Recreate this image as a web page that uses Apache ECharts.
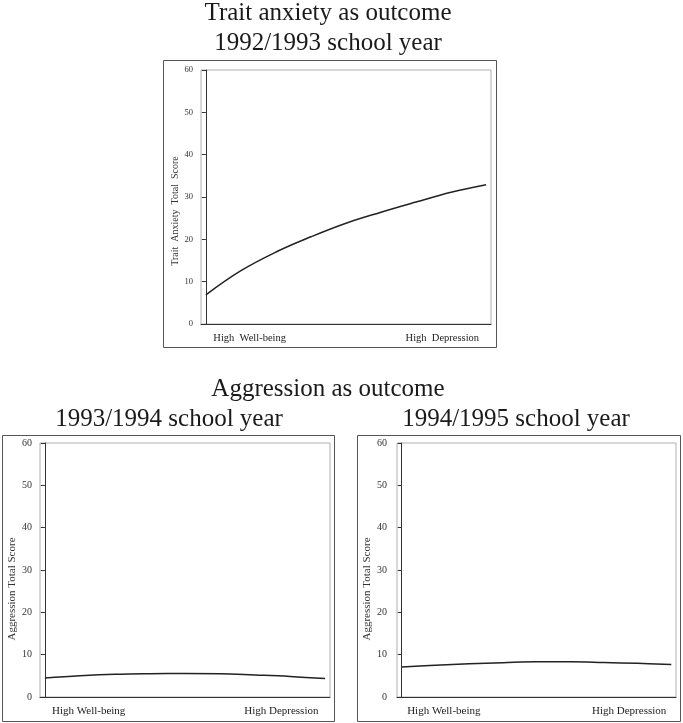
<!DOCTYPE html>
<html>
<head>
<meta charset="utf-8">
<script src="https://cdn.jsdelivr.net/npm/echarts@6/dist/echarts.min.js"></script>
<style>html,body{margin:0;padding:0;background:#fff;}#c{width:683px;height:723px;}</style>
</head>
<body>
<div id="c"></div>
<script>
// ---- data ----
var predictorSteps = [0, 1, 2, 3, 4, 5, 6, 7, 8];
var traitAnxiety9293 = [6.9, 12.6, 17.0, 20.6, 23.8, 26.4, 28.8, 31.1, 32.9];
var aggression9394 = [4.5, 5.0, 5.35, 5.5, 5.55, 5.5, 5.2, 4.85, 4.35];
var aggression9495 = [7.1, 7.5, 7.85, 8.1, 8.3, 8.3, 8.15, 7.95, 7.7];
var endLabelPositions = [1.25, 6.75];
var endLabelsTop = ['High  Well-being', 'High  Depression'];
var endLabelsBottom = ['High Well-being', 'High Depression'];
var yTicks = [0, 10, 20, 30, 40, 50, 60];
var titles = {
  top1: 'Trait anxiety as outcome',
  top2: '1992/1993 school year',
  bottom: 'Aggression as outcome',
  left: '1993/1994 school year',
  right: '1994/1995 school year'
};
var yNames = ['Trait  Anxiety  Total  Score', 'Aggression Total Score', 'Aggression Total Score'];

// ---- chart ----
var FONT = 'Liberation Serif, Times New Roman, serif';
var chart = echarts.init(document.getElementById('c'), null, {renderer: 'canvas'});

function pairs(vals) { return vals.map(function (v, i) { return [predictorSteps[i], v]; }); }

var grids = [
  {left: 201, top: 70, width: 290, height: 254},
  {left: 40, top: 443, width: 290, height: 254},
  {left: 397, top: 443, width: 279, height: 254}
];
var tickFont = [8.5, 10, 10];
var labelFont = [10.5, 11, 11];
var nameGaps = [20, 22, 20];
var namePad = [[0, 28, 0, 0], [0, 38, 0, 0], [0, 38, 0, 0]];
var labelMargins = [8, 8, 10];
var labelSets = [endLabelsTop, endLabelsBottom, endLabelsBottom];

var xAxes = [], yAxes = [], series = [];
var seriesData = [traitAnxiety9293, aggression9394, aggression9495];
grids.forEach(function (g, k) {
  g.show = true;
  g.borderColor = '#b0b0b0';
  g.borderWidth = 1;
  g.backgroundColor = '#fff';
  xAxes.push({
    type: 'value', gridIndex: k, min: -0.14, max: 8.14,
    axisLine: {show: true, onZero: false, lineStyle: {color: '#333', width: 1}},
    axisTick: {show: false},
    splitLine: {show: false},
    axisLabel: {
      customValues: endLabelPositions,
      margin: 9,
      color: '#222',
      fontFamily: FONT,
      fontSize: labelFont[k],
      formatter: (function (labels) {
        return function (v) {
          var idx = endLabelPositions.indexOf(v);
          return idx >= 0 ? labels[idx] : '';
        };
      })(labelSets[k])
    }
  });
  yAxes.push({
    type: 'value', gridIndex: k, min: 0, max: 60, interval: 10,
    name: yNames[k], nameLocation: 'middle', nameGap: nameGaps[k],
    nameTextStyle: {fontFamily: FONT, fontSize: 11, color: '#333', padding: namePad[k]},
    axisLine: {show: true, lineStyle: {color: '#333', width: 1}},
    axisTick: {show: true, length: 4, lineStyle: {color: '#333'}},
    splitLine: {show: false},
    axisLabel: {margin: labelMargins[k], color: '#333', fontFamily: FONT, fontSize: tickFont[k]}
  });
  series.push({
    type: 'line', xAxisIndex: k, yAxisIndex: k,
    data: pairs(seriesData[k]),
    smooth: 0.4, showSymbol: false, symbol: 'none',
    lineStyle: {color: '#222', width: 1.5}
  });
});
yAxes[0].nameTextStyle.fontSize = 10;

function titleText(txt, x, y) {
  return {type: 'text', x: x, y: y, style: {text: txt, fontFamily: FONT, fontSize: 25, fill: '#1a1a1a', align: 'center', verticalAlign: 'middle'}};
}
function box(x, y, w, h) {
  return {type: 'rect', shape: {x: x, y: y, width: w, height: h}, style: {fill: null, stroke: '#555', lineWidth: 1}, z: -10};
}

chart.setOption({
  animation: false,
  backgroundColor: '#fff',
  grid: grids,
  xAxis: xAxes,
  yAxis: yAxes,
  series: series,
  graphic: [
    box(163.5, 60.5, 333, 287),
    box(2.5, 435.5, 332, 286),
    box(357.5, 435.5, 323, 286),
    titleText(titles.top1, 328, 13.5),
    titleText(titles.top2, 328, 43.5),
    titleText(titles.bottom, 328, 389),
    titleText(titles.left, 169, 419.5),
    titleText(titles.right, 516, 419.5)
  ]
});
</script>
</body>
</html>
